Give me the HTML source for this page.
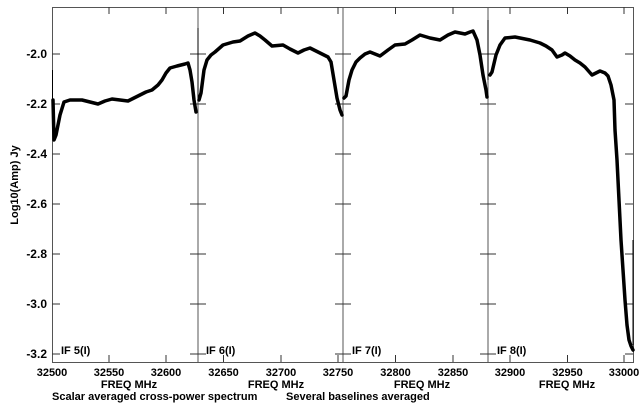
<!DOCTYPE html>
<html><head><meta charset="utf-8"><style>
html,body{margin:0;padding:0;background:#fff;width:639px;height:405px;overflow:hidden}
svg{display:block}
text{font-family:"Liberation Sans",Arial,sans-serif;font-weight:bold;fill:#000}
</style></head><body>
<svg width="639" height="405" viewBox="0 0 639 405" xmlns="http://www.w3.org/2000/svg">
<g stroke="#555" stroke-width="1" fill="none">
<rect x="52.5" y="7.5" width="581" height="355"/>
<line x1="198" y1="7" x2="198" y2="362"/>
<line x1="343" y1="7" x2="343" y2="362"/>
<line x1="488" y1="7" x2="488" y2="362"/>
</g>
<g stroke="#333" stroke-width="1">
<!-- left ticks -->
<path d="M52 54h8M52 104h8M52 154h8M52 204h8M52 254h8M52 304h8M52 354h8"/>
<path d="M625 54h8M625 104h8M625 154h8M625 204h8M625 254h8M625 304h8M625 354h8"/>
<path d="M190 54h16M190 104h16M190 154h16M190 204h16M190 254h16M190 304h16M190 354h16"/>
<path d="M335 54h16M335 104h16M335 154h16M335 204h16M335 254h16M335 304h16M335 354h16"/>
<path d="M480 54h16M480 104h16M480 154h16M480 204h16M480 254h16M480 304h16M480 354h16"/>
<!-- x ticks -->
<path d="M109 7v7M166 7v7M223.5 7v7M281 7v7M338 7v7M395.5 7v7M453 7v7M510 7v7M567.5 7v7M624 7v7"/>
<path d="M109 362v-7M166 362v-7M223.5 362v-7M281 362v-7M338 362v-7M395.5 362v-7M453 362v-7M510 362v-7M567.5 362v-7M624 362v-7"/>
</g>
<g fill="none" stroke="#000" stroke-width="3.5" stroke-linejoin="round" stroke-linecap="round">
<polyline points="53,100 54,140 56,135 60,115 64,102 70,100 82,100 90,102 98,104 105,101 112,99 120,100 128,101 134,98 140,95 146,92 152,90 158,85 162,80 166,73 170,68 177,66 185,64 188,63 190,70 192,82 194,100 196,112"/>
<polyline points="199,100 201,93 204,70 207,60 211,55 215,52 223,45 233,42 240,41 248,36 255,33 260,36 265,40 272,46 283,45 290,49 298,53 304,50 310,48 316,51 320,53 328,57 331,62 334,80 337,98 340,110 342,115"/>
<polyline points="344,98 346,96 349,80 352,70 356,62 360,58 365,54 370,52 375,54 380,56 388,50 395,45 405,44 412,40 420,35 430,38 440,40 448,35 455,32 460,33 465,34 470,32 473,31 477,40 480,55 483,75 486,90 487,97"/>
<polyline points="490,75 492,72 496,55 500,45 505,38 515,37 525,39 530,40 540,43 546,46 552,50 557,57 562,55 565,53 570,56 575,60 580,63 585,67 592,75 596,73 600,71 605,73 608,76 611,85 614,100 615,130 617,160 619,200 621,240 623,270 625,300 627,325 629,340 631,346 633,350"/>
</g>
<g stroke="#000" stroke-width="1">
<line x1="633" y1="240" x2="633" y2="345"/>
<line x1="52.5" y1="70" x2="52.5" y2="100"/>
<line x1="198" y1="28" x2="198" y2="100"/>
<line x1="488" y1="20" x2="488" y2="80"/>
</g>
<g font-size="12">
<text x="47" y="58" text-anchor="end">-2.0</text>
<text x="47" y="108" text-anchor="end">-2.2</text>
<text x="47" y="158" text-anchor="end">-2.4</text>
<text x="47" y="208" text-anchor="end">-2.6</text>
<text x="47" y="258" text-anchor="end">-2.8</text>
<text x="47" y="308" text-anchor="end">-3.0</text>
<text x="47" y="358" text-anchor="end">-3.2</text>
</g>
<g font-size="11" text-anchor="middle">
<text x="52" y="376">32500</text>
<text x="109" y="376">32550</text>
<text x="166" y="376">32600</text>
<text x="223.5" y="376">32650</text>
<text x="281" y="376">32700</text>
<text x="338" y="376">32750</text>
<text x="395.5" y="376">32800</text>
<text x="453" y="376">32850</text>
<text x="510" y="376">32900</text>
<text x="567.5" y="376">32950</text>
<text x="624" y="376">33000</text>
<text x="129" y="388">FREQ MHz</text>
<text x="276" y="388">FREQ MHz</text>
<text x="422" y="388">FREQ MHz</text>
<text x="567" y="388">FREQ MHz</text>
</g>
<g font-size="11">
<text x="61" y="354">IF 5(I)</text>
<text x="206" y="354">IF 6(I)</text>
<text x="352" y="354">IF 7(I)</text>
<text x="497" y="354">IF 8(I)</text>
<text x="52" y="400">Scalar averaged cross-power spectrum</text>
<text x="286" y="400">Several baselines averaged</text>
</g>
<text font-size="11" transform="translate(18,185) rotate(-90)" text-anchor="middle">Log10(Amp) Jy</text>
</svg>
</body></html>
